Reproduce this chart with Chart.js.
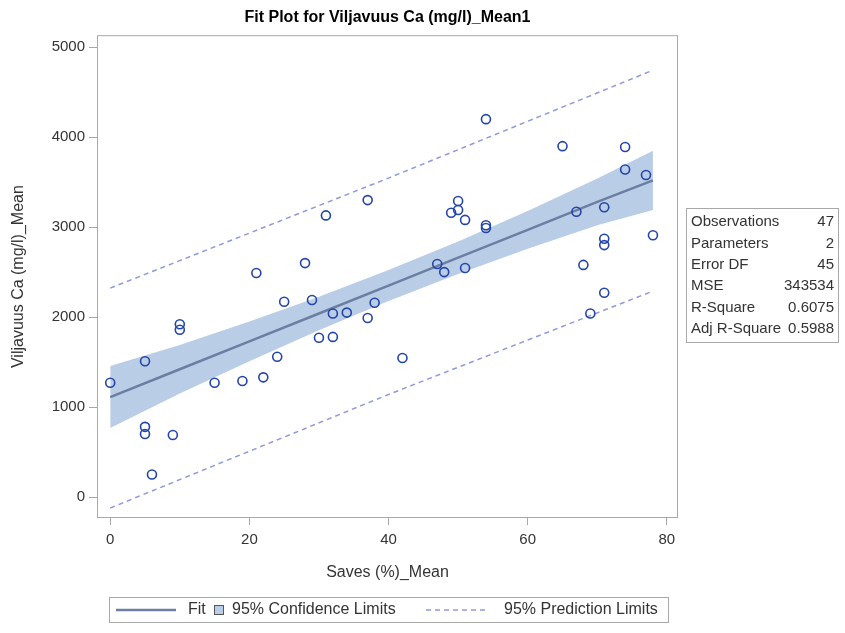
<!DOCTYPE html>
<html>
<head>
<meta charset="utf-8">
<title>Fit Plot for Viljavuus Ca (mg/l)_Mean1</title>
<script src="https://cdn.jsdelivr.net/npm/chart.js@4.4.0/dist/chart.umd.min.js"></script>
<style>
  html, body { margin: 0; padding: 0; background: #fff; }
  #wrap { width: 845px; height: 633px; }
</style>
</head>
<body>
<div id="wrap"><canvas id="fitPlot" width="845" height="633"></canvas></div>
<script>
// Observations: Saves (%)_Mean vs Viljavuus Ca (mg/l)_Mean
const savesMean = [0, 5, 5, 5, 6, 9, 10, 10, 15, 19, 21, 22, 24, 25, 28, 29,
  30, 31, 32, 32, 34, 37, 37, 38, 42, 47, 48, 49, 50, 50, 51, 51, 54, 54, 54,
  65, 67, 68, 69, 71, 71, 71, 71, 74, 74, 77, 78];
const caMean = [1270, 1510, 780, 700, 250, 690, 1920, 1860, 1270, 1290, 2490,
  1330, 1560, 2170, 2600, 2190, 1770, 3130, 2040, 1780, 2050, 3300, 1990, 2160,
  1545, 2590, 2500, 3160, 3290, 3190, 3080, 2545, 4200, 3020, 2990, 3900, 3170,
  2580, 2040, 3220, 2870, 2800, 2270, 3890, 3640, 3580, 2910];

// Fit line and 95% confidence band
const fitX = [0, 10, 20, 30, 40, 50, 60, 70, 78];
const fitY = [1111, 1420, 1730, 2040, 2350, 2660, 2970, 3280, 3520];
const confUpper = [1456, 1690, 1950, 2225, 2522, 2840, 3180, 3540, 3850];
const confLower = [767, 1150, 1510, 1855, 2178, 2480, 2760, 3020, 3190];

// 95% prediction limits
const predX = [0, 40, 78];
const predUpper = [2322, 3545, 4744];
const predLower = [-122, 1140, 2289];

const xTicks = [0, 20, 40, 60, 80];
const yTicks = [0, 1000, 2000, 3000, 4000, 5000];

const statLabels = ['Observations', 'Parameters', 'Error DF', 'MSE', 'R-Square', 'Adj R-Square'];
const statValues = ['47', '2', '45', '343534', '0.6075', '0.5988'];

const FONT = "'Liberation Sans', Arial, sans-serif";
const MARKER = '#2344a8';
const FIT_COLOR = '#6c7fa3';
const BAND_COLOR = '#b9cde6';
const PRED_COLOR = '#8f9ad9';
const FRAME = '#a8a8a8';
const TEXT = '#333333';

Chart.defaults.font.family = FONT;
Chart.defaults.color = TEXT;

const pairs = (xs, ys) => xs.map((x, i) => ({ x: x, y: ys[i] }));

// frame around the plot, the stats inset and the legend box
const plotExtras = {
  id: 'plotExtras',
  afterDraw(chart) {
    const ctx = chart.ctx;
    const a = chart.chartArea;
    ctx.save();
    ctx.strokeStyle = FRAME;
    ctx.lineWidth = 1;
    ctx.strokeRect(a.left + 0.5, a.top + 0.5, a.right - a.left - 1, a.bottom - a.top - 1);

    // statistics inset
    ctx.font = '15px ' + FONT;
    ctx.fillStyle = '#fff';
    ctx.fillRect(686, 208, 152, 134);
    ctx.strokeStyle = FRAME;
    ctx.strokeRect(686.5, 208.5, 152, 134);
    ctx.fillStyle = TEXT;
    ctx.textBaseline = 'middle';
    statLabels.forEach((lab, i) => {
      const y = 222 + i * 21.4;
      ctx.textAlign = 'left';
      ctx.fillText(lab, 691, y);
      ctx.textAlign = 'right';
      ctx.fillText(statValues[i], 834, y);
    });

    // legend
    ctx.font = '16px ' + FONT;
    ctx.strokeStyle = FRAME;
    ctx.strokeRect(109.5, 597.5, 559, 25);
    const ly = 610;
    ctx.strokeStyle = FIT_COLOR;
    ctx.lineWidth = 2.5;
    ctx.beginPath();
    ctx.moveTo(116, ly);
    ctx.lineTo(176, ly);
    ctx.stroke();
    ctx.textAlign = 'left';
    ctx.fillStyle = TEXT;
    ctx.fillText('Fit', 188, ly);

    ctx.fillStyle = BAND_COLOR;
    ctx.fillRect(214, 605, 10, 10);
    ctx.strokeStyle = '#555';
    ctx.lineWidth = 1;
    ctx.strokeRect(214.5, 605.5, 9, 9);
    ctx.fillStyle = TEXT;
    ctx.fillText('95% Confidence Limits', 232, ly);

    ctx.strokeStyle = PRED_COLOR;
    ctx.lineWidth = 1.5;
    ctx.setLineDash([5, 4]);
    ctx.beginPath();
    ctx.moveTo(426, ly);
    ctx.lineTo(488, ly);
    ctx.stroke();
    ctx.setLineDash([]);
    ctx.fillText('95% Prediction Limits', 504, ly);
    ctx.restore();
  }
};

new Chart(document.getElementById('fitPlot'), {
  type: 'scatter',
  data: {
    datasets: [
      {
        label: 'Observations',
        data: pairs(savesMean, caMean),
        pointStyle: 'circle',
        pointRadius: 4.5,
        pointBorderWidth: 1.6,
        pointBorderColor: MARKER,
        pointBackgroundColor: 'rgba(0,0,0,0)'
      },
      {
        label: 'Fit',
        data: pairs(fitX, fitY),
        showLine: true,
        borderColor: FIT_COLOR,
        borderWidth: 2.5,
        pointRadius: 0
      },
      {
        label: '95% Prediction Limits',
        data: pairs(predX, predUpper),
        showLine: true,
        borderColor: PRED_COLOR,
        borderWidth: 1.5,
        borderDash: [5, 4],
        pointRadius: 0
      },
      {
        label: '95% Prediction Limits (lower)',
        data: pairs(predX, predLower),
        showLine: true,
        borderColor: PRED_COLOR,
        borderWidth: 1.5,
        borderDash: [5, 4],
        pointRadius: 0
      },
      {
        label: '95% Confidence Limits',
        data: pairs(fitX, confUpper),
        showLine: true,
        borderWidth: 0,
        borderColor: BAND_COLOR,
        backgroundColor: BAND_COLOR,
        fill: '+1',
        pointRadius: 0
      },
      {
        label: '95% Confidence Limits (lower)',
        data: pairs(fitX, confLower),
        showLine: true,
        borderWidth: 0,
        borderColor: BAND_COLOR,
        pointRadius: 0
      }
    ]
  },
  options: {
    responsive: false,
    animation: false,
    events: [],
    layout: {
      padding: { left: 0, right: 167, top: 0, bottom: 45 }
    },
    plugins: {
      legend: { display: false },
      tooltip: { enabled: false },
      title: {
        display: true,
        text: 'Fit Plot for Viljavuus Ca (mg/l)_Mean1',
        fullSize: false,
        color: '#000',
        font: { size: 16, weight: 'bold', family: FONT },
        padding: { top: 8, bottom: 8 }
      }
    },
    scales: {
      x: {
        type: 'linear',
        min: -1.9,
        max: 81.6,
        afterBuildTicks: (scale) => { scale.ticks = xTicks.map(v => ({ value: v })); },
        afterFit: (scale) => { scale.height = 70; },
        grid: { drawOnChartArea: false, drawTicks: true, tickLength: 7, color: FRAME },
        border: { display: false },
        ticks: { color: TEXT, font: { size: 15 }, padding: 6, maxRotation: 0, callback: (v) => String(v) },
        title: {
          display: true,
          text: 'Saves (%)_Mean',
          color: TEXT,
          font: { size: 16 },
          padding: { top: 0, bottom: 6 }
        }
      },
      y: {
        type: 'linear',
        min: -233,
        max: 5133,
        afterBuildTicks: (scale) => { scale.ticks = yTicks.map(v => ({ value: v })); },
        afterFit: (scale) => { scale.width = 97; },
        grid: { drawOnChartArea: false, drawTicks: true, tickLength: 8, color: FRAME },
        border: { display: false },
        ticks: { color: TEXT, font: { size: 15 }, padding: 4, callback: (v) => String(v) },
        title: {
          display: true,
          text: 'Viljavuus Ca (mg/l)_Mean',
          color: TEXT,
          font: { size: 16 },
          padding: { top: 9, bottom: 0 }
        }
      }
    }
  },
  plugins: [plotExtras]
});
</script>
</body>
</html>
